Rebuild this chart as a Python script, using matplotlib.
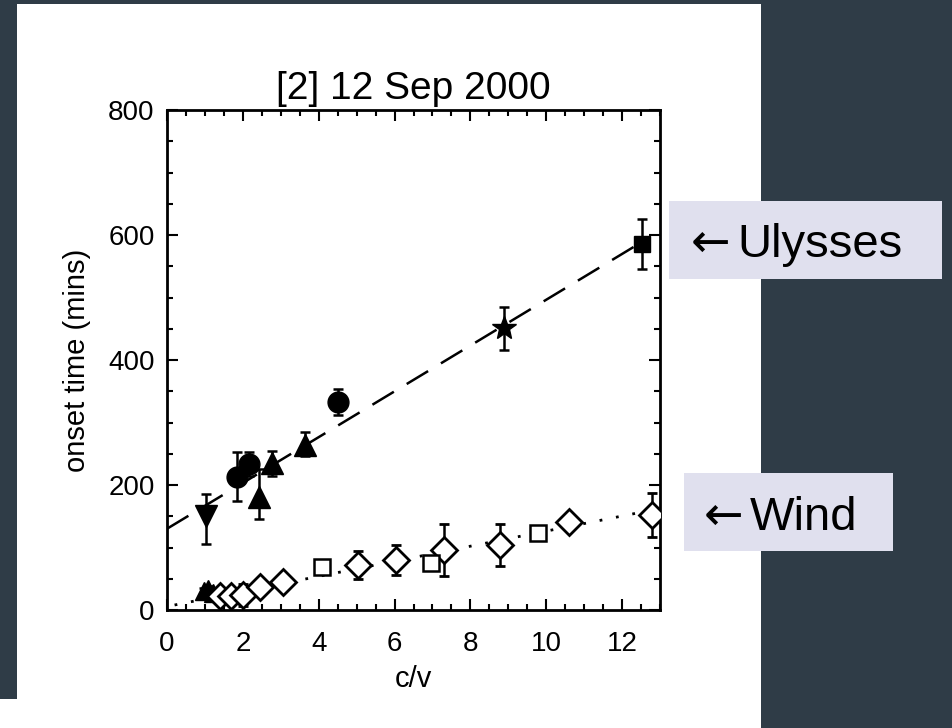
import matplotlib

matplotlib.use("Agg")
import matplotlib.pyplot as plt
from matplotlib.patches import Rectangle
from matplotlib.ticker import MultipleLocator

plt.rcParams["font.family"] = ["Liberation Sans", "DejaVu Sans"]

# Ulysses (filled symbols, upper group)
uly_down_x = [1.03]
uly_down_y = [150]
uly_down_err = [[44], [36]]

uly_circle_x = [1.85, 2.16, 4.51]
uly_circle_y = [213, 234, 333]
uly_circle_err = [[39, 20, 21], [40, 19, 21]]

uly_tri_x = [2.43, 2.77, 3.64]
uly_tri_y = [181, 236, 264]
uly_tri_err = [[35, 22, 18], [45, 18, 21]]

uly_star_x = [8.89]
uly_star_y = [451]
uly_star_err = [[35], [34]]

uly_square_x = [12.53]
uly_square_y = [585]
uly_square_err = [[40], [40]]

uly_fit_x = [0.0, 12.5]
uly_fit_y = [130, 588]

# Wind (mostly open symbols, lower group)
wind_tri_x = [0.98, 1.08, 1.2]
wind_tri_y = [30, 33, 28]
wind_tri_err = [6, 6, 6]

wind_diamond_x = [1.4, 1.7, 2.0, 2.45, 3.06, 5.04, 6.04, 7.3, 8.79, 10.6, 12.8]
wind_diamond_y = [22, 22, 24, 37, 45, 72, 80, 96, 104, 141, 152]
wind_diamond_err = [8, 8, 18, 8, 8, 22, 24, 42, 33, 10, 35]

wind_square_x = [4.09, 6.97, 9.79]
wind_square_y = [69, 75, 124]
wind_square_err = [10, 10, 10]

wind_fit_x = [0.2, 12.8]
wind_fit_y = [8, 160]

x_ticks = [0, 2, 4, 6, 8, 10, 12]
y_ticks = [0, 200, 400, 600, 800]

W, H = 952, 728
dark = "#2f3c47"
box = "#e0e0ee"

fig = plt.figure(figsize=(W / 100, H / 100), dpi=100)
fig.patch.set_facecolor(dark)

# white page area
fig.patches.append(Rectangle((17 / W, 1 - 700 / H), 744 / W, 696 / H,
                             transform=fig.transFigure, facecolor="white",
                             edgecolor="none", zorder=-2))
fig.patches.append(Rectangle((0, 0), 761 / W, 29 / H,
                             transform=fig.transFigure, facecolor="white",
                             edgecolor="none", zorder=-2))

ax = fig.add_axes([167 / W, 1 - 610 / H, 493 / W, 500 / H])
ax.set_facecolor("white")

ebkw = dict(ecolor="black", elinewidth=1.8, capsize=3.5, capthick=1.8,
            linestyle="none", zorder=3)

ax.plot(uly_fit_x, uly_fit_y, color="black", lw=1.8,
        linestyle=(0, (10, 6)), zorder=2)
ax.plot(wind_fit_x, wind_fit_y, color="black", lw=2.0,
        linestyle=(0, (1, 5)), zorder=2)

ax.errorbar(uly_down_x, uly_down_y, yerr=uly_down_err, marker="v",
            ms=16, mfc="black", mec="black", **ebkw)
ax.errorbar(uly_circle_x, uly_circle_y, yerr=uly_circle_err, marker="o",
            ms=15, mfc="black", mec="black", **ebkw)
ax.errorbar(uly_tri_x, uly_tri_y, yerr=uly_tri_err, marker="^",
            ms=16, mfc="black", mec="black", **ebkw)
ax.errorbar(uly_star_x, uly_star_y, yerr=uly_star_err, marker="*",
            ms=18, mfc="black", mec="black", **ebkw)
ax.errorbar(uly_square_x, uly_square_y, yerr=uly_square_err, marker="s",
            ms=11, mfc="black", mec="black", **ebkw)

ax.errorbar(wind_tri_x, wind_tri_y, yerr=wind_tri_err, marker="^",
            ms=13, mfc="black", mec="black", **ebkw)
ax.errorbar(wind_diamond_x, wind_diamond_y, yerr=wind_diamond_err,
            marker="D", ms=13, mfc="white", mec="black", mew=2.0, **ebkw)
ax.errorbar(wind_square_x, wind_square_y, yerr=wind_square_err,
            marker="s", ms=11, mfc="white", mec="black", mew=1.8, **ebkw)

ax.set_xlim(0, 13)
ax.set_ylim(0, 800)
ax.set_xticks(x_ticks)
ax.set_yticks(y_ticks)
ax.xaxis.set_minor_locator(MultipleLocator(0.5))
ax.yaxis.set_minor_locator(MultipleLocator(50))
ax.tick_params(which="both", direction="in", top=True, right=True,
               width=1.5, labelsize=20, pad=9)
ax.tick_params(axis="x", which="major", pad=15)
ax.tick_params(which="major", length=8)
ax.tick_params(which="minor", length=4)
for s in ax.spines.values():
    s.set_linewidth(2.0)

ax.set_title("[2] 12 Sep 2000", fontsize=28, pad=8)
ax.set_xlabel("c/v", fontsize=21, labelpad=6)
ax.set_ylabel("onset time (mins)", fontsize=21, labelpad=12)

# callout labels
fig.patches.append(Rectangle((669 / W, 1 - 279 / H), 273 / W, 78 / H,
                             transform=fig.transFigure, facecolor=box,
                             edgecolor="none", zorder=1))
fig.patches.append(Rectangle((684 / W, 1 - 551 / H), 209 / W, 78 / H,
                             transform=fig.transFigure, facecolor=box,
                             edgecolor="none", zorder=1))
fig.text(691 / W, 1 - 257 / H, "\u2190", fontsize=34, family="DejaVu Sans",
         ha="left", va="baseline", zorder=2)
fig.text(737 / W, 1 - 257 / H, "Ulysses", fontsize=34,
         ha="left", va="baseline", zorder=2)
fig.text(704 / W, 1 - 530 / H, "\u2190", fontsize=34, family="DejaVu Sans",
         ha="left", va="baseline", zorder=2)
fig.text(750 / W, 1 - 530 / H, "Wind", fontsize=34,
         ha="left", va="baseline", zorder=2)

fig.savefig("out.png", dpi=100, facecolor=fig.get_facecolor())
